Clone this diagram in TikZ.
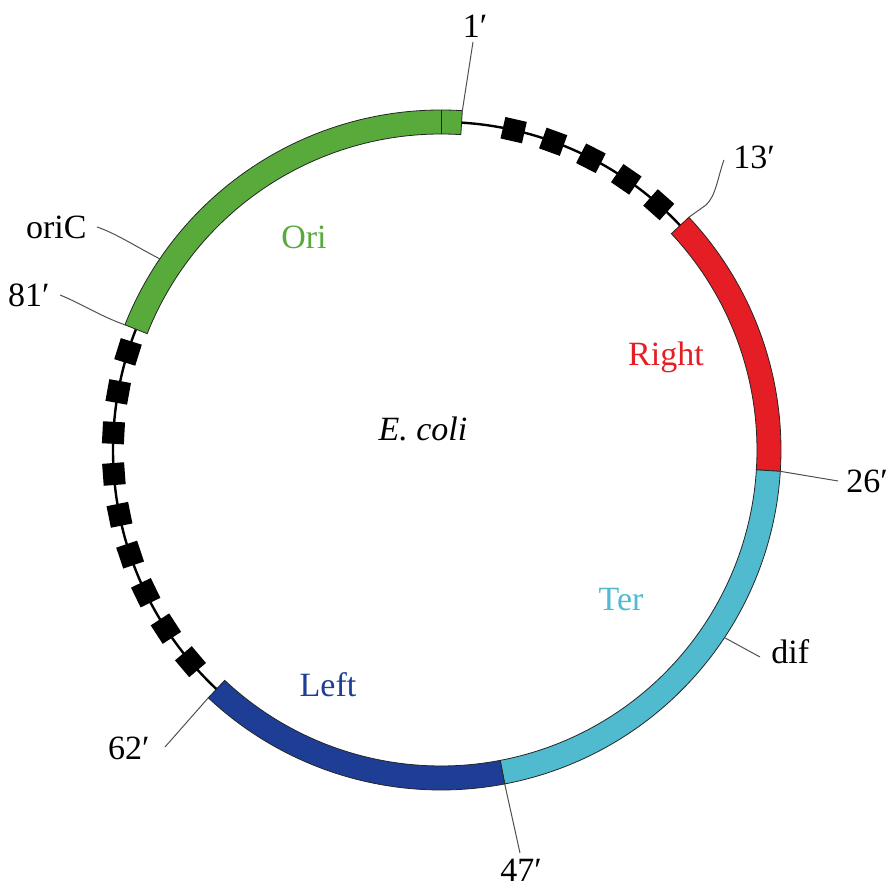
\documentclass[tikz,border=0pt]{standalone}
\usepackage{fontspec}
\setmainfont{LiberationSerif}[Extension=.ttf, UprightFont=*-Regular, ItalicFont=*-Italic, BoldFont=*-Bold, BoldItalicFont=*-BoldItalic]
\definecolor{origreen}{RGB}{88,170,58}
\definecolor{rightred}{RGB}{228,30,36}
\definecolor{tercyan}{RGB}{80,186,206}
\definecolor{leftblue}{RGB}{30,62,150}
\definecolor{leadgray}{RGB}{80,80,80}
\newcommand\myband[3]{\filldraw[bandline, fill=#3] (#1:316) arc[start angle=#1, end angle=#2, radius=316] -- (#2:340) arc[start angle=#2, end angle=#1, radius=340] -- cycle;}
\begin{document}
\begin{tikzpicture}[x=0.5pt,y=0.5pt,
  lbl/.style={font=\rmfamily\fontsize{17}{20}\selectfont, inner sep=0pt},
  bandline/.style={draw=black!85, line width=0.4pt},
  sq/.style={fill=black, minimum size=11pt, inner sep=0pt, draw=none},
  lead/.style={draw=leadgray, line width=0.5pt}]
\useasboundingbox (0,0) rectangle (895,888);
\begin{scope}[shift={(441,438)}]
  \draw[line width=1.2pt] (0,0) circle[radius=328];
  \myband{158.4}{86.4}{origreen}
  \myband{43.2}{-3.6}{rightred}
  \myband{-3.6}{-79.2}{tercyan}
  \myband{-79.2}{-133.2}{leftblue}
  \draw[bandline] (90:316) -- (90:340);
  \foreach \a [count=\i] in {77.2,70,62.8,55.6,48.4}
    \node[sq, rotate=\a] (t\i) at (\a:328) {};
  \foreach \a [count=\i] in {162.6,169.8,177,184.2,191.4,198.6,205.8,213,220.2}
    \node[sq, rotate=\a] (l\i) at (\a:328) {};
  \coordinate (p1) at (86.4:340);
  \coordinate (p13) at (43.2:340);
  \coordinate (p26) at (-3.6:340);
  \coordinate (pdif) at (-33.5:340);
  \coordinate (p47) at (-79.2:340);
  \coordinate (p62) at (-133.2:340);
  \coordinate (p81) at (158.4:340);
  \coordinate (pori) at (145.8:340);
\end{scope}
% label texts
\node[lbl] (t1) at (475,862) {1′};
\node[lbl, anchor=west] (t13) at (733,731) {13′};
\node[lbl, anchor=west] (t26) at (846,407) {26′};
\node[lbl, anchor=west] (tdif) at (771,236) {dif};
\node[lbl] (t47) at (521,18) {47′};
\node[lbl, anchor=east] (t62) at (150,140) {62′};
\node[lbl, anchor=east] (t81) at (50,593) {81′};
\node[lbl, anchor=east] (tori) at (87,661) {oriC};
% leader ends
\coordinate (e1) at (473,846);
\coordinate (e13a) at (706,683);
\coordinate (e13) at (724,728);
\coordinate (e26) at (838,407);
\coordinate (edif) at (760,231);
\coordinate (e47) at (520,35);
\coordinate (e62) at (165,141);
\coordinate (e81) at (60,593);
\coordinate (eori) at (97,661);
\draw[lead] (p1) -- (e1);
\draw[lead] (p13) -- (e13a) .. controls (716,692) and (718,712) .. (e13);
\draw[lead] (p26) -- (e26);
\draw[lead] (pdif) -- (edif);
\draw[lead] (p47) -- (e47);
\draw[lead] (p62) -- (e62);
\draw[lead] (p81) .. controls (100,572) and (80,585) .. (e81);
\draw[lead] (pori) .. controls (135,642) and (115,655) .. (eori);
% inner labels
\node[lbl, text=origreen] (ori) at (304,651) {Ori};
\node[lbl, text=rightred] (right) at (666,531) {Right};
\node[lbl, text=tercyan] (ter) at (621,288) {Ter};
\node[lbl, text=leftblue] (left) at (328,203) {Left};
\node[lbl] (ecoli) at (423,459) {\itshape E. coli};
\end{tikzpicture}
\end{document}
